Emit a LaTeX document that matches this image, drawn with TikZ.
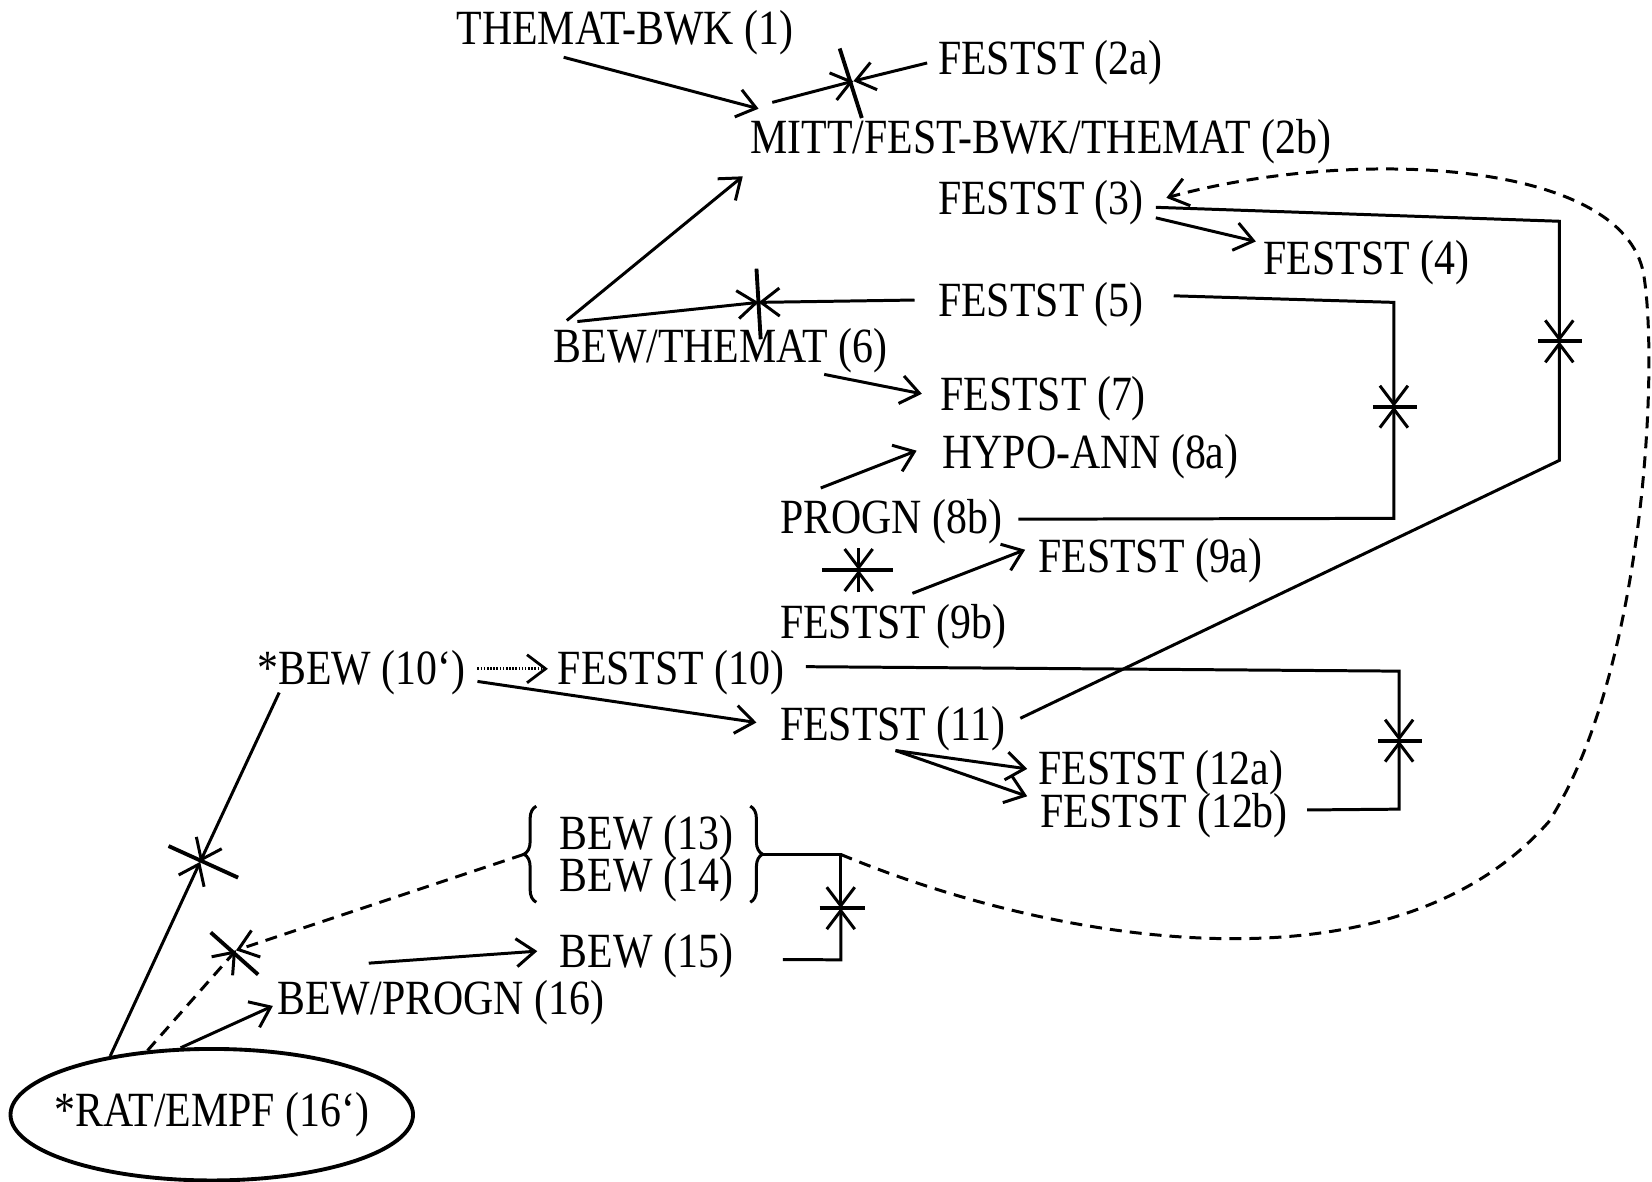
\documentclass[tikz,border=0pt]{standalone}
\usepackage{fontspec}
\setmainfont{Liberation Serif}[FakeStretch=0.85]
\usetikzlibrary{arrows.meta,shapes.geometric,decorations.pathreplacing}

\begin{document}
\begin{tikzpicture}[x=0.2107mm, y=-0.2107mm, line width=1.7pt,
    >={Straight Barb[length=3.7mm,width=5.6mm]},
    txt/.style={inner sep=0pt, anchor=base west, font=\fontsize{28}{32}\selectfont},
    balken/.style={line width=2.2pt},
    gestr/.style={dash pattern=on 2.4mm off 1.6mm},
    punkt/.style={dash pattern=on 0.9pt off 0.9pt, line width=1.6pt}]
    \useasboundingbox (0,0) rectangle (1568,1121);

    % Texte
    \node[txt] (n1)   at (432,42)   {THEMAT-BWK (1)};
    \node[txt] (n2a)  at (889,71)   {FESTST (2a)};
    \node[txt] (n2b)  at (711,146)  {MITT/FEST-BWK/THEMAT (2b)};
    \node[txt] (n3)   at (889,204)  {FESTST (3)};
    \node[txt] (n4)   at (1198,261) {FESTST (4)};
    \node[txt] (n5)   at (889,300)  {FESTST (5)};
    \node[txt] (n6)   at (524,344)  {BEW/THEMAT (6)};
    \node[txt] (n7)   at (891,390)  {FESTST (7)};
    \node[txt] (n8a)  at (893,445)  {HYPO-ANN (8a)};
    \node[txt] (n8b)  at (739,506)  {PROGN (8b)};
    \node[txt] (n9a)  at (984,543)  {FESTST (9a)};
    \node[txt] (n9b)  at (739,606)  {FESTST (9b)};
    \node[txt] (n10s) at (243,650)  {*BEW (10‘)};
    \node[txt] (n10)  at (528,650)  {FESTST (10)};
    \node[txt] (n11)  at (739,703)  {FESTST (11)};
    \node[txt] (n12a) at (984,745)  {FESTST (12a)};
    \node[txt] (n12b) at (986,785)  {FESTST (12b)};
    \node[txt] (n13)  at (530,806)  {BEW (13)};
    \node[txt] (n14)  at (530,846)  {BEW (14)};
    \node[txt] (n15)  at (530,918)  {BEW (15)};
    \node[txt] (n16)  at (262,963)  {BEW/PROGN (16)};
    \node[ellipse, draw, line width=2.2pt, inner sep=0pt, minimum width=80.5mm, minimum height=26.3mm,
          font=\fontsize{28}{32}\selectfont] (e16) at (201,1058) {\makebox[0pt]{*RAT/EMPF (16‘)}};

    % Knoten und Ecken
    \coordinate (x2)   at (810,77);
    \coordinate (x6)   at (720,287);
    \coordinate (j3)   at (1480,324);
    \coordinate (j5)   at (1323,386);
    \coordinate (j8)   at (815,541);
    \coordinate (j10)  at (1328,703);
    \coordinate (j13)  at (798,862);
    \coordinate (x16a) at (190,818);
    \coordinate (x16b) at (224,902);
    \coordinate (k3)   at (1480,210);
    \coordinate (k11)  at (1480,437);
    \coordinate (k5)   at (1323,287);
    \coordinate (k8)   at (1323,492);
    \coordinate (k10)  at (1328,637);
    \coordinate (k12)  at (1328,768);
    \coordinate (k13)  at (798,811);
    \coordinate (k15)  at (798,911);
    \coordinate (bl)   at (497,811);
    \coordinate (br)   at (722,811);

    % Balken
    \draw[balken] ([shift={(-13,-31)}]x2) -- ([shift={(8,35)}]x2);
    \draw[balken] ([shift={(-2,-32)}]x6) -- ([shift={(2,35)}]x6);
    \draw[balken] ([shift={(-20,0)}]j3) -- ([shift={(22,0)}]j3);
    \draw[balken] ([shift={(-20,0)}]j5) -- ([shift={(22,0)}]j5);
    \draw[balken] ([shift={(-35,0)}]j8) -- ([shift={(33,0)}]j8);
    \draw[balken] ([shift={(-20,0)}]j10) -- ([shift={(22,0)}]j10);
    \draw[balken] ([shift={(-20,0)}]j13) -- ([shift={(23,0)}]j13);
    \draw[balken] ([shift={(-30,-15)}]x16a) -- ([shift={(36,15)}]x16a);
    \draw[balken] ([shift={(-24,-17)}]x16b) -- ([shift={(21,23)}]x16b);

    % Klammern
    \draw[decorate, decoration={brace, amplitude=7pt}] ([shift={(-21,-1)}]n14.south west) -- ([shift={(-21,-7)}]n13.north west);
    \draw[decorate, decoration={brace, amplitude=7pt}] ([shift={(15,-7)}]n13.north east) -- ([shift={(15,-1)}]n14.south east);

    % Pfeile
    \draw[->] ([shift={(103,1)}]n1.south west) -- ([shift={(9,-9)}]n2b.north west);
    \draw[->] ([shift={(22,-15)}]n2b.north west) -- (x2);
    \draw[->] ([shift={(-9,0)}]n2a.west) -- (x2);
    \draw[->] ([shift={(14,-6)}]n6.north west) -- ([shift={(-6,10)}]n2b.south west);
    \draw[->] ([shift={(24,-5)}]n6.north west) -- (x6);
    \draw[->] ([shift={(-21,-4)}]n5.west) -- (x6);
    \draw[->] ([shift={(-61,0)}]n6.south east) -- ([shift={(-16,-5)}]n7.west);
    \draw[->] ([shift={(10,14)}]n3.east) -- ([shift={(-6,2)}]n4.north west);
    \draw[->] ([shift={(10,4)}]n3.east) -- (k3) -- (j3);
    \draw[->] ([shift={(13,-10)}]n11.east) -- (k11) -- (j3);
    \draw[->] ([shift={(27,-8)}]n5.east) -- (k5) -- (j5);
    \draw[->] ([shift={(14,-2)}]n8b.east) -- (k8) -- (j5);
    \draw[->] ([shift={(40,-9)}]n8b.north west) -- ([shift={(-23,-6)}]n8a.west);
    \draw[->] ([shift={(76,3)}]n8b.south west) -- (j8);
    \draw[->] ([shift={(76,-10)}]n9b.north west) -- (j8);
    \draw[->] ([shift={(127,-9)}]n9b.north west) -- ([shift={(-11,-10)}]n9a.west);
    \draw[->, punkt] ([shift={(10,-4)}]n10s.east) -- ([shift={(-8,-4)}]n10.west);
    \draw[->] ([shift={(10,8)}]n10s.east) -- ([shift={(-21,-6)}]n11.west);
    \draw[->] ([shift={(19,-6)}]n10.east) -- (k10) -- (j10);
    \draw[->] ([shift={(17,-5)}]n12b.east) -- (k12) -- (j10);
    \draw[->] ([shift={(111,-2)}]n11.south west) -- ([shift={(-9,-4)}]n12a.west);
    \draw[->] ([shift={(111,-2)}]n11.south west) -- ([shift={(-11,-18)}]n12b.west);
    \draw[->] (br) -- (k13) -- (j13);
    \draw[->] ([shift={(46,4)}]n15.east) -- (k15) -- (j13);
    \draw[->, gestr] (bl) -- (x16b);
    \draw[->, gestr] (e16.135) -- (x16b);
    \draw[->] (e16.150) -- (x16a);
    \draw[->] ([shift={(22,-4)}]n10s.south west) -- (x16a);
    \draw[->] (e16.115) -- ([shift={(-3,3)}]n16.west);
    \draw[->] ([shift={(88,-15)}]n16.north west) -- ([shift={(-20,-4)}]n15.west);
    \draw[->, gestr] (k13) .. controls (1000,895) and (1320,950) .. (1470,780)
                          .. controls (1560,640) and (1575,350) .. (1560,260)
                          .. controls (1540,150) and (1280,140) .. ([shift={(20,-5)}]n3.east); % Bogen
\end{tikzpicture}
\end{document}
